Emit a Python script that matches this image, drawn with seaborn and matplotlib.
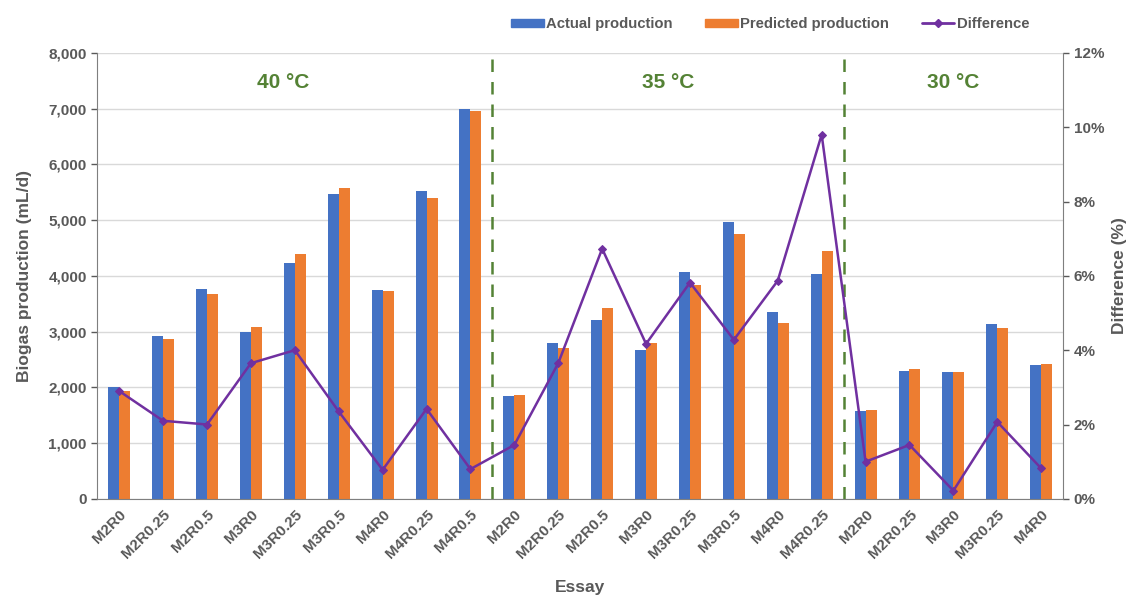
import numpy as np
import pandas as pd
import matplotlib.pyplot as plt
import seaborn as sns
from matplotlib.patches import Patch
from matplotlib.lines import Line2D
from matplotlib.ticker import FuncFormatter, MultipleLocator

sns.set_style("white")
plt.rcParams["font.family"] = ["Liberation Sans", "DejaVu Sans"]

essays = ["M2R0", "M2R0.25", "M2R0.5", "M3R0", "M3R0.25", "M3R0.5", "M4R0", "M4R0.25", "M4R0.5",
          "M2R0", "M2R0.25", "M2R0.5", "M3R0", "M3R0.25", "M3R0.5", "M4R0", "M4R0.25",
          "M2R0", "M2R0.25", "M3R0", "M3R0.25", "M4R0"]
temps = ["40 °C"] * 9 + ["35 °C"] * 8 + ["30 °C"] * 5
actual = [2000, 2930, 3760, 2990, 4230, 5460, 3750, 5530, 7000,
          1840, 2800, 3200, 2670, 4070, 4970, 3360, 4030,
          1580, 2300, 2280, 3130, 2400]
predicted = [1940, 2870, 3680, 3080, 4390, 5580, 3720, 5400, 6950,
             1870, 2700, 3420, 2790, 3840, 4750, 3160, 4440,
             1600, 2330, 2270, 3070, 2410]
difference = [2.9, 2.1, 2.0, 3.65, 4.0, 2.35, 0.78, 2.42, 0.8,
              1.45, 3.65, 6.73, 4.17, 5.82, 4.28, 5.87, 9.8,
              1.0, 1.45, 0.22, 2.07, 0.82]

blue = "#4472C4"
orange = "#ED7D31"
purple = "#7030A0"
green = "#548235"
grey = "#595959"

keys = [f"{t}|{e}|{i}" for i, (t, e) in enumerate(zip(temps, essays))]
df = pd.DataFrame({"key": keys * 2,
                   "value": actual + predicted,
                   "series": ["Actual production"] * len(keys) + ["Predicted production"] * len(keys)})

fig, ax = plt.subplots(figsize=(11.31, 6.01), dpi=100)
fig.subplots_adjust(left=0.086, right=0.94, top=0.912, bottom=0.17)

sns.barplot(data=df, x="key", y="value", hue="series", order=keys,
            palette=[blue, orange], saturation=1, width=0.5, linewidth=0,
            ax=ax, legend=False)
ax.set_ylim(0, 8000)
ax.yaxis.set_major_locator(MultipleLocator(1000))
ax.yaxis.set_major_formatter(FuncFormatter(lambda v, p: f"{int(v):,}"))
ax.grid(axis="y", color="#D9D9D9", linewidth=1)
ax.set_axisbelow(True)
ax.set_xticks(range(len(keys)))
ax.set_xticklabels(essays, rotation=45, ha="right", rotation_mode="anchor")
ax.set_xlim(-0.5, len(keys) - 0.5)
ax.tick_params(axis="both", labelsize=11, colors=grey, length=4, width=1, direction="out")
ax.tick_params(axis="x", length=0, pad=6)
for lab in ax.get_xticklabels() + ax.get_yticklabels():
    lab.set_fontweight("bold")
ax.set_xlabel("Essay", fontsize=12.5, fontweight="bold", color=grey, labelpad=14)
ax.set_ylabel("Biogas production (mL/d)", fontsize=12.5, fontweight="bold", color=grey, labelpad=12)
for s in ["top", "right"]:
    ax.spines[s].set_visible(False)
for s in ["left", "bottom"]:
    ax.spines[s].set_color("#7F7F7F")

ax2 = ax.twinx()
sns.lineplot(x=np.arange(len(keys)), y=difference, color=purple, marker="D", markersize=4,
             markeredgecolor=purple, linewidth=1.8, ax=ax2)
ax2.set_ylim(0, 12)
ax2.yaxis.set_major_locator(MultipleLocator(2))
ax2.yaxis.set_major_formatter(FuncFormatter(lambda v, p: f"{int(v)}%"))
ax2.tick_params(axis="y", labelsize=11, colors=grey, length=4, width=1)
for lab in ax2.get_yticklabels():
    lab.set_fontweight("bold")
ax2.set_ylabel("Difference (%)", fontsize=12.5, fontweight="bold", color=grey, labelpad=6)
for s in ["top", "left", "bottom"]:
    ax2.spines[s].set_visible(False)
ax2.spines["right"].set_color("#7F7F7F")

# group separators and temperature labels
label_shift = {"40 °C": -0.26, "35 °C": 0.0, "30 °C": 0.0}
start = 0
for g in dict.fromkeys(temps):
    n = temps.count(g)
    ax.text(start + (n - 1) / 2 + label_shift[g], 7460, g, color=green,
            fontsize=15, fontweight="bold", ha="center", va="center")
    start += n
    if start < len(keys):
        ax.axvline(start - 0.5, color=green, linestyle=(0, (5, 4)), linewidth=1.8)

handles = [Patch(color=blue, label="Actual production"),
           Patch(color=orange, label="Predicted production"),
           Line2D([0], [0], color=purple, marker="D", markersize=4, linewidth=2, label="Difference")]
leg = fig.legend(handles=handles, loc="center", bbox_to_anchor=(0.681, 0.96), ncol=3,
                 frameon=False, fontsize=10.7, handlelength=2.2, handleheight=0.5,
                 columnspacing=2.2, handletextpad=0.15)
for t in leg.get_texts():
    t.set_color(grey)
    t.set_fontweight("bold")

fig.savefig("out.png", dpi=100)
